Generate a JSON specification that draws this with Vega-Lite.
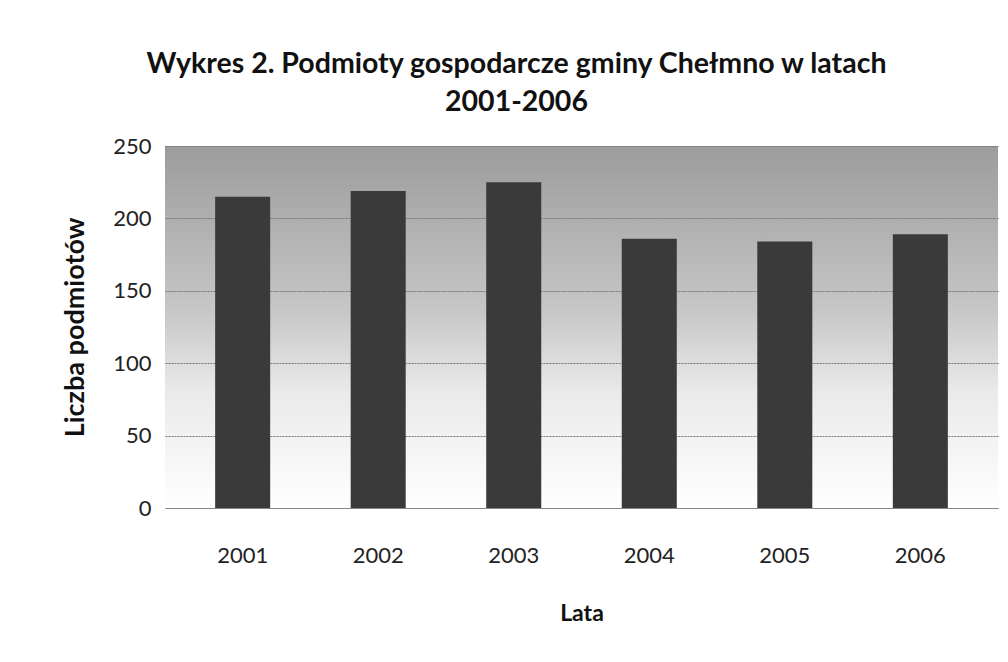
{
  "$schema": "https://vega.github.io/schema/vega-lite/v6.json",
  "autosize": "none",
  "width": 833,
  "height": 362,
  "padding": {"left": 165, "top": 146, "right": 10, "bottom": 154},
  "background": "white",
  "config": {
    "font": "Lato",
    "view": {
      "stroke": null,
      "fill": {"gradient": "linear", "x1": 0, "y1": 0, "x2": 0, "y2": 1,
        "stops": [{"offset": 0, "color": "#9c9c9c"}, {"offset": 0.45, "color": "#c6c6c6"}, {"offset": 0.68, "color": "#eaeaea"}, {"offset": 1, "color": "#ffffff"}]}
    }
  },
  "title": {
    "text": ["Wykres 2. Podmioty gospodarcze gminy Chełmno w latach", "2001-2006"],
    "fontSize": 28.5,
    "fontWeight": "bold",
    "color": "#111111",
    "anchor": "middle",
    "dx": -65,
    "offset": 19,
    "lineHeight": 38
  },
  "data": {
    "values": [
      {"rok": "2001", "liczba": 215},
      {"rok": "2002", "liczba": 219},
      {"rok": "2003", "liczba": 225},
      {"rok": "2004", "liczba": 186},
      {"rok": "2005", "liczba": 184},
      {"rok": "2006", "liczba": 189}
    ]
  },
  "mark": {"type": "bar", "color": "#3a3a3a"},
  "encoding": {
    "x": {
      "field": "rok", "type": "nominal",
      "scale": {"paddingInner": 0.594, "paddingOuter": 0.37},
      "axis": {
        "title": "Lata", "titleFontSize": 23, "titleFontWeight": "bold", "titleColor": "#111111", "titlePadding": 36,
        "labelAngle": 0, "labelFontSize": 22, "labelColor": "#222222", "labelPadding": 37,
        "ticks": false, "domainColor": "#888888"
      }
    },
    "y": {
      "field": "liczba", "type": "quantitative",
      "scale": {"domain": [0, 250]},
      "axis": {
        "title": "Liczba podmiotów", "titleFontSize": 27, "titleFontWeight": "bold", "titleColor": "#111111", "titlePadding": 23,
        "values": [0, 50, 100, 150, 200, 250],
        "labelFontSize": 22, "labelColor": "#222222", "labelPadding": 14,
        "ticks": false, "domain": false,
        "gridColor": "#777777", "gridDash": [2, 1]
      }
    }
  }
}
